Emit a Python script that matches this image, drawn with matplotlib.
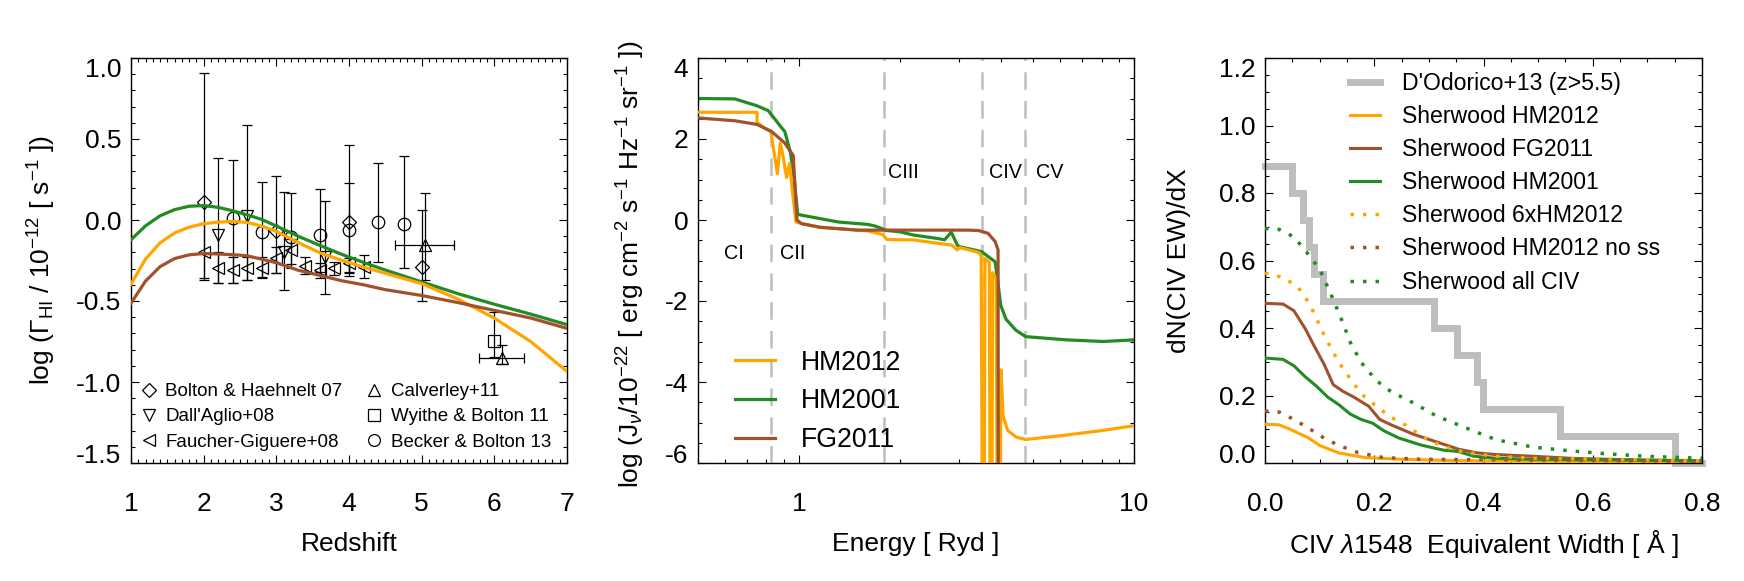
import numpy as np
import matplotlib
matplotlib.use('Agg')
import matplotlib.pyplot as plt
from matplotlib.lines import Line2D
from matplotlib.ticker import MultipleLocator, FixedLocator, NullFormatter

plt.rcParams['font.family'] = ['Liberation Sans', 'DejaVu Sans']
plt.rcParams['mathtext.fontset'] = 'custom'
plt.rcParams['mathtext.rm'] = 'Liberation Sans'
plt.rcParams['mathtext.it'] = 'Liberation Sans:italic'
plt.rcParams['mathtext.bf'] = 'Liberation Sans:bold'
plt.rcParams['axes.unicode_minus'] = False

ORANGE = '#FFA500'
GREEN = '#228B22'
BROWN = '#A0522D'
GREY = '#BEBEBE'

#-----Panel 1: HI photoionisation rate vs redshift-----
z_grid = [1.0, 1.2, 1.4, 1.6, 1.8, 2.0, 2.2, 2.4, 2.6, 2.8, 3.0, 3.3, 3.6, 3.9, 4.2, 4.5, 5.0, 5.5, 6.0, 6.5, 7.0]
gam_hm2001 = [-0.122, -0.036, 0.026, 0.064, 0.085, 0.089, 0.078, 0.057, 0.032, 0.003, -0.037, -0.100, -0.157,
              -0.212, -0.262, -0.309, -0.382, -0.455, -0.520, -0.581, -0.646]
gam_hm2012 = [-0.396, -0.241, -0.141, -0.080, -0.044, -0.023, -0.013, -0.009, -0.015, -0.038, -0.070, -0.139, -0.203,
              -0.249, -0.291, -0.329, -0.393, -0.488, -0.606, -0.750, -0.935]
gam_fg2011 = [-0.514, -0.377, -0.288, -0.238, -0.215, -0.207, -0.210, -0.214, -0.221, -0.242, -0.264, -0.310, -0.342,
              -0.375, -0.400, -0.430, -0.466, -0.510, -0.558, -0.605, -0.669]

bh07_z = [2.0, 3.0, 4.0, 5.0]
bh07_g = [0.11, -0.07, -0.01, -0.29]
bh07_hi = [0.91, 0.27, 0.465, 0.06]
bh07_lo = [-0.36, -0.325, -0.346, -0.50]

da08_z = [2.2, 2.59, 3.1, 3.67]
da08_g = [-0.09, 0.027, -0.195, -0.226]
da08_hi = [0.38, 0.586, 0.175, 0.117]
da08_lo = [-0.39, -0.37, -0.432, -0.459]

fg08_z = [2.0, 2.2, 2.4, 2.6, 2.8, 3.0, 3.2, 3.4, 3.6, 3.8, 4.0, 4.2]
fg08_g = [-0.20, -0.294, -0.309, -0.299, -0.299, -0.237, -0.185, -0.284, -0.309, -0.299, -0.268, -0.288]
fg08_hi = [-0.02, -0.195, -0.227, -0.227, -0.23, -0.165, -0.12, -0.23, -0.268, -0.257, -0.237, -0.216]
fg08_lo = [-0.37, -0.39, -0.391, -0.37, -0.35, -0.33, -0.27, -0.333, -0.36, -0.34, -0.319, -0.36]

cal11_z = [5.04, 6.10]
cal11_zerr = [0.41, 0.31]
cal11_g = [-0.154, -0.854]
cal11_hi = [0.165, -0.772]
cal11_lo = [-0.37, -0.891]

wb11_z = [6.0]
wb11_g = [-0.747]
wb11_hi = [-0.57]
wb11_lo = [-0.844]

bb13_z = [2.4, 2.8, 3.2, 3.6, 4.0, 4.4, 4.75]
bb13_g = [0.01, -0.072, -0.103, -0.093, -0.062, -0.014, -0.025]
bb13_hi = [0.37, 0.236, 0.165, 0.191, 0.226, 0.354, 0.395]
bb13_lo = [-0.391, -0.36, -0.298, -0.319, -0.329, -0.261, -0.299]

#-----Panel 2: UV background spectra-----
hm12_e = [0.5, 0.75, 0.75, 0.789, 0.824, 0.863, 0.88, 0.896, 0.919, 0.938, 0.955, 0.98, 1.02, 1.16, 1.4, 1.61,
          1.78, 1.83, 2.0, 2.19, 2.68, 2.86, 2.97, 3.02, 3.44, 3.50, 3.525, 3.575, 3.59, 3.70, 3.72, 3.77, 3.785,
          3.88, 3.905, 3.99, 4.01, 4.07, 4.2, 4.45, 4.75, 6.0, 8.0, 10.0]
hm12_j = [2.66, 2.66, 2.41, 2.27, 2.20, 1.14, 1.90, 1.60, 1.05, 1.40, 0.77, -0.05, -0.09, -0.18, -0.23, -0.27,
          -0.36, -0.48, -0.49, -0.49, -0.59, -0.62, -0.74, -0.68, -0.80, -0.88, -7.0, -7.0, -0.95, -1.05, -7.0, -7.0,
          -1.3, -1.45, -7.0, -7.0, -3.7, -4.85, -5.2, -5.36, -5.42, -5.33, -5.20, -5.08]

hm01_e = [0.5, 0.644, 0.75, 0.81, 0.863, 0.908, 0.943, 0.967, 0.992, 1.018, 1.313, 1.61, 1.69, 1.83, 2.0, 2.19,
          2.61, 2.72, 2.85, 2.97, 3.02, 3.51, 3.85, 3.92, 4.0, 4.15, 4.44, 4.75, 6.3, 8.1, 10.0]
hm01_j = [3.0, 2.99, 2.82, 2.70, 2.41, 2.18, 1.68, 1.05, 0.14, 0.12, -0.05, -0.11, -0.15, -0.26, -0.29, -0.37,
          -0.46, -0.49, -0.30, -0.62, -0.66, -0.78, -1.03, -1.5, -2.1, -2.45, -2.72, -2.88, -2.96, -3.0, -2.96]

fg11_e = [0.5, 0.644, 0.75, 0.83, 0.908, 0.962, 0.987, 1.018, 1.156, 1.49, 2.0, 3.2, 3.44, 3.67, 3.85, 3.93,
          3.95, 10.0]
fg11_j = [2.52, 2.45, 2.36, 2.18, 1.90, 1.59, 0.0, -0.09, -0.18, -0.25, -0.25, -0.25, -0.26, -0.33, -0.53, -0.74,
          -20.0, -20.0]

edge_e = [0.828, 1.792, 3.52, 4.74]
ion_names = ['CI', 'CII', 'CIII', 'CIV', 'CV']
ion_e = [0.64, 0.955, 2.05, 4.13, 5.61]
ion_y = [-0.82, -0.82, 1.18, 1.18, 1.18]

#-----Panel 3: CIV equivalent width distribution-----
dod_ew = [0.0, 0.05, 0.07, 0.08, 0.09, 0.107, 0.31, 0.351, 0.389, 0.399, 0.54, 0.75, 0.80]
dod_n = [0.88, 0.80, 0.72, 0.64, 0.56, 0.48, 0.40, 0.32, 0.24, 0.16, 0.08, 0.0, 0.0]

sw_hm12_ew = [0.0, 0.026, 0.046, 0.08, 0.1, 0.135, 0.183, 0.25, 0.35, 0.5, 0.8]
sw_hm12_n = [0.115, 0.113, 0.10, 0.074, 0.052, 0.030, 0.016, 0.011, 0.007, 0.005, 0.003]

sw_fg11_ew = [0.0, 0.033, 0.053, 0.074, 0.088, 0.108, 0.125, 0.142, 0.163, 0.19, 0.21, 0.231, 0.272, 0.313,
              0.354, 0.388, 0.423, 0.491, 0.559, 0.628, 0.8]
sw_fg11_n = [0.473, 0.471, 0.451, 0.397, 0.353, 0.293, 0.232, 0.213, 0.195, 0.168, 0.129, 0.113, 0.085, 0.063,
             0.041, 0.030, 0.025, 0.020, 0.014, 0.011, 0.005]

sw_hm01_ew = [0.0, 0.033, 0.053, 0.074, 0.094, 0.115, 0.135, 0.156, 0.176, 0.197, 0.217, 0.245, 0.286, 0.327,
              0.354, 0.382, 0.423, 0.491, 0.8]
sw_hm01_n = [0.311, 0.307, 0.288, 0.255, 0.228, 0.195, 0.173, 0.145, 0.129, 0.118, 0.096, 0.074, 0.053, 0.038,
             0.034, 0.020, 0.014, 0.011, 0.007]

sw_6x_ew = [0.0, 0.033, 0.06, 0.081, 0.094, 0.108, 0.122, 0.135, 0.149, 0.163, 0.183, 0.204, 0.231, 0.258, 0.286,
            0.32, 0.354, 0.388, 0.423, 0.491, 0.8]
sw_6x_n = [0.563, 0.55, 0.522, 0.473, 0.429, 0.38, 0.337, 0.298, 0.266, 0.233, 0.195, 0.168, 0.135, 0.112, 0.08,
           0.053, 0.036, 0.027, 0.020, 0.014, 0.007]

sw_noss_ew = [0.0, 0.026, 0.053, 0.081, 0.108, 0.135, 0.17, 0.217, 0.286, 0.8]
sw_noss_n = [0.154, 0.151, 0.129, 0.102, 0.074, 0.052, 0.031, 0.016, 0.011, 0.005]

sw_all_ew = [0.0, 0.026, 0.053, 0.081, 0.101, 0.122, 0.142, 0.156, 0.176, 0.204, 0.231, 0.272, 0.313, 0.354,
             0.388, 0.423, 0.491, 0.559, 0.628, 0.696, 0.8]
sw_all_n = [0.695, 0.692, 0.670, 0.615, 0.571, 0.495, 0.418, 0.358, 0.298, 0.244, 0.211, 0.178, 0.140, 0.113,
            0.091, 0.069, 0.047, 0.036, 0.027, 0.020, 0.014]

#tick labels
p1_xticks = [1, 2, 3, 4, 5, 6, 7]
p1_yticks = [-1.5, -1.0, -0.5, 0.0, 0.5, 1.0]
p1_ylabels = ['-1.5', '-1.0', '-0.5', '0.0', '0.5', '1.0']
p2_xticks = [1, 10]
p2_yticks = [-6, -4, -2, 0, 2, 4]
p2_ylabels = ['-6', '-4', '-2', '0', '2', '4']
p3_xticks = [0.0, 0.2, 0.4, 0.6, 0.8]
p3_xlabels = ['0.0', '0.2', '0.4', '0.6', '0.8']
p3_yticks = [0.0, 0.2, 0.4, 0.6, 0.8, 1.0, 1.2]
p3_ylabels = ['0.0', '0.2', '0.4', '0.6', '0.8', '1.0', '1.2']

TICK_FS = 19


def style_axes(ax):
    ax.tick_params(which='both', direction='in', top=True, right=True, width=0.8, labelsize=TICK_FS)
    ax.tick_params(which='major', length=5.5)
    ax.tick_params(which='minor', length=2.7)
    ax.tick_params(axis='x', which='both', pad=21)
    ax.tick_params(axis='y', which='both', pad=7)
    for s in ax.spines.values():
        s.set_linewidth(1.0)


def end_labels(ax):
    yl = ax.get_yticklabels()
    yl[0].set_va('baseline')
    yl[-1].set_va('top')


fig = plt.figure(figsize=(17.44, 5.81), dpi=100)
ax1 = fig.add_axes([131 / 1744, 118 / 581, 436 / 1744, 405 / 581])
ax2 = fig.add_axes([698 / 1744, 118 / 581, 436 / 1744, 405 / 581])
ax3 = fig.add_axes([1265 / 1744, 118 / 581, 437 / 1744, 405 / 581])

#-----Panel 1-----
ebkw = dict(ls='none', color='black', mfc='none', mec='black', mew=0.9, elinewidth=0.9, capsize=3.5,
            capthick=0.9, zorder=2)


def err(g, lo, hi):
    g = np.array(g)
    return [g - np.array(lo), np.array(hi) - g]


ax1.errorbar(bh07_z, bh07_g, yerr=err(bh07_g, bh07_lo, bh07_hi), marker='D', ms=7.5, **ebkw)
ax1.errorbar(da08_z, da08_g, yerr=err(da08_g, da08_lo, da08_hi), marker='v', ms=9, **ebkw)
ax1.errorbar(fg08_z, fg08_g, yerr=err(fg08_g, fg08_lo, fg08_hi), marker='<', ms=9, **ebkw)
ax1.errorbar(cal11_z, cal11_g, xerr=cal11_zerr, yerr=err(cal11_g, cal11_lo, cal11_hi), marker='^', ms=9, **ebkw)
ax1.errorbar(wb11_z, wb11_g, yerr=err(wb11_g, wb11_lo, wb11_hi), marker='s', ms=8.5, **ebkw)
ax1.errorbar(bb13_z, bb13_g, yerr=err(bb13_g, bb13_lo, bb13_hi), marker='o', ms=9, **ebkw)

ax1.plot(z_grid, gam_hm2001, color=GREEN, lw=2.3, zorder=3)
ax1.plot(z_grid, gam_hm2012, color=ORANGE, lw=2.3, zorder=3)
ax1.plot(z_grid, gam_fg2011, color=BROWN, lw=2.3, zorder=3)

ax1.set_xlim(1, 7)
ax1.set_ylim(-1.5, 1.0)
style_axes(ax1)
ax1.set_xticks(p1_xticks)
ax1.set_yticks(p1_yticks, labels=p1_ylabels)
ax1.xaxis.set_minor_locator(MultipleLocator(0.1))
ax1.yaxis.set_minor_locator(MultipleLocator(0.1))
end_labels(ax1)
ax1.set_xlabel('Redshift', fontsize=19, va='center')
ax1.xaxis.set_label_coords(0.5, -0.2)
ax1.set_ylabel(r'log ($\Gamma_{\rm HI}$ / 10$^{-12}$ [ s$^{-1}$ ])', fontsize=19, va='center')
ax1.yaxis.set_label_coords(-0.205, 0.5)

mk = dict(ls='none', color='black', mfc='none', mec='black', mew=0.9)
leg_a = [Line2D([], [], marker='D', ms=7, **mk), Line2D([], [], marker='v', ms=8.5, **mk),
         Line2D([], [], marker='<', ms=8.5, **mk)]
leg_b = [Line2D([], [], marker='^', ms=8.5, **mk), Line2D([], [], marker='s', ms=8, **mk),
         Line2D([], [], marker='o', ms=8.5, **mk)]
lkw = dict(loc='lower left', frameon=False, fontsize=13.5, handlelength=0.8, handletextpad=0.5,
           labelspacing=0.44, borderpad=0, borderaxespad=0)
l1 = ax1.legend(leg_a, ['Bolton & Haehnelt 07', "Dall'Aglio+08", 'Faucher-Giguere+08'],
                bbox_to_anchor=(0.023, 0.03), **lkw)
ax1.add_artist(l1)
ax1.legend(leg_b, ['Calverley+11', 'Wyithe & Bolton 11', 'Becker & Bolton 13'],
           bbox_to_anchor=(0.541, 0.03), **lkw)

#-----Panel 2-----
for e in edge_e:
    ax2.axvline(e, color=GREY, lw=1.8, dashes=(7, 4.5), zorder=1)
ax2.plot(hm12_e, hm12_j, color=ORANGE, lw=2.3, label='HM2012', zorder=3)
ax2.plot(hm01_e, hm01_j, color=GREEN, lw=2.3, label='HM2001', zorder=2)
ax2.plot(fg11_e, fg11_j, color=BROWN, lw=2.3, label='FG2011', zorder=4)
for name, e, y in zip(ion_names, ion_e, ion_y):
    ax2.text(e, y, name, fontsize=14.2, ha='center', va='center')

ax2.set_xscale('log')
ax2.set_xlim(0.5, 10)
ax2.set_ylim(-6, 4)
style_axes(ax2)
ax2.set_xticks(p2_xticks, labels=['1', '10'])
ax2.xaxis.set_minor_locator(FixedLocator([0.5, 0.6, 0.7, 0.8, 0.9, 2, 3, 4, 5, 6, 7, 8, 9]))
ax2.xaxis.set_minor_formatter(NullFormatter())
ax2.set_yticks(p2_yticks, labels=p2_ylabels)
ax2.yaxis.set_minor_locator(MultipleLocator(0.5))
end_labels(ax2)
ax2.set_xlabel('Energy [ Ryd ]', fontsize=19, va='center')
ax2.xaxis.set_label_coords(0.5, -0.2)
ax2.set_ylabel(r'log (J$_\nu$/10$^{-22}$ [ erg cm$^{-2}$ s$^{-1}$ Hz$^{-1}$ sr$^{-1}$ ])', fontsize=19,
               va='center')
ax2.yaxis.set_label_coords(-0.155, 0.49)
ax2.legend(loc='lower left', bbox_to_anchor=(0.086, 0.025), frameon=False, fontsize=19.2, handlelength=1.5,
           handletextpad=0.95, labelspacing=0.47, borderpad=0, borderaxespad=0)

#-----Panel 3-----
ax3.step(dod_ew, dod_n, where='post', color=GREY, lw=5, solid_joinstyle='miter', clip_on=False,
         label="D'Odorico+13 (z>5.5)", zorder=2)
ax3.plot(sw_hm12_ew, sw_hm12_n, color=ORANGE, lw=2.2, label='Sherwood HM2012', zorder=3)
ax3.plot(sw_fg11_ew, sw_fg11_n, color=BROWN, lw=2.2, label='Sherwood FG2011', zorder=3)
ax3.plot(sw_hm01_ew, sw_hm01_n, color=GREEN, lw=2.2, label='Sherwood HM2001', zorder=3)
ax3.plot(sw_6x_ew, sw_6x_n, color=ORANGE, lw=2.5, ls=(0, (1, 2.6)), label='Sherwood 6xHM2012', zorder=3)
ax3.plot(sw_noss_ew, sw_noss_n, color=BROWN, lw=2.5, ls=(0, (1, 2.6)), label='Sherwood HM2012 no ss', zorder=3)
ax3.plot(sw_all_ew, sw_all_n, color=GREEN, lw=2.5, ls=(0, (1, 2.6)), label='Sherwood all CIV', zorder=3)

ax3.set_xlim(0, 0.8)
ax3.set_ylim(0, 1.2)
style_axes(ax3)
ax3.set_xticks(p3_xticks, labels=p3_xlabels)
ax3.set_yticks(p3_yticks, labels=p3_ylabels)
ax3.xaxis.set_minor_locator(MultipleLocator(0.05))
ax3.yaxis.set_minor_locator(MultipleLocator(0.05))
end_labels(ax3)
ax3.set_xlabel(r'CIV $\lambda$1548  Equivalent Width [ Å ]', fontsize=19, va='center')
ax3.xaxis.set_label_coords(0.5, -0.2)
ax3.set_ylabel('dN(CIV EW)/dX', fontsize=19, va='center')
ax3.yaxis.set_label_coords(-0.197, 0.5)
ax3.legend(loc='upper left', bbox_to_anchor=(0.195, 0.966), frameon=False, fontsize=16.6, handlelength=1.3,
           handletextpad=0.93, labelspacing=0.44, borderpad=0, borderaxespad=0)

fig.savefig('out.png', dpi=100)
